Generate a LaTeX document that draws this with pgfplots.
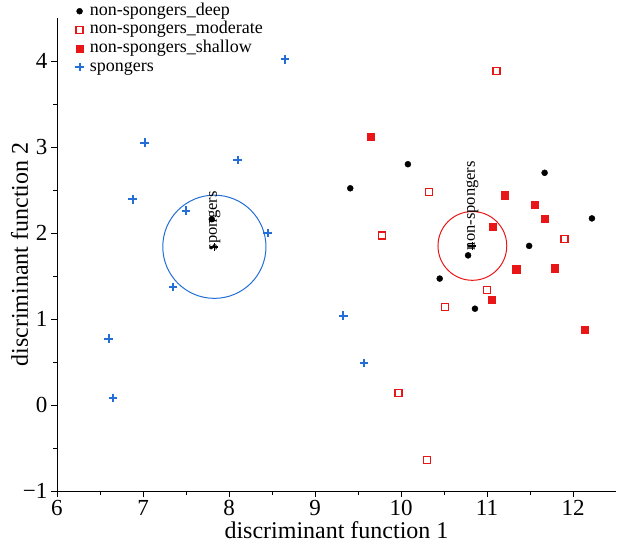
\documentclass[border=0pt]{standalone}
\usepackage{fontspec}
\setmainfont{Liberation Serif}
\usepackage{pgfplots}
\pgfplotsset{compat=1.18}
\definecolor{myred}{RGB}{232,22,22}
\definecolor{myblue}{RGB}{35,110,215}

\begin{document}
\begin{tikzpicture}
\path[use as bounding box] (-57pt,-56pt) rectangle (560pt,491pt);
\begin{axis}[
  at={(0,0)}, anchor=south west,
  scale only axis, width=559pt, height=473pt,
  xmin=6, xmax=12.5, ymin=-1, ymax=4.5,
  axis lines=left, axis line style={-, line width=0.8pt},
  xtick={6,7,8,9,10,11,12}, ytick={-1,0,1,2,3,4},
  xticklabels={6,7,8,9,10,11,12},
  yticklabels={−1,0,1,2,3,4},
  minor x tick num=1, minor y tick num=1,
  tick align=outside,
  major tick length=6pt, minor tick length=4pt,
  tick style={black, line width=0.8pt},
  ticklabel style={font=\fontsize{23}{23}\selectfont},
  xlabel={discriminant function 1}, ylabel={discriminant function 2},
  label style={font=\fontsize{24}{24}\selectfont},
  xlabel style={at={(axis description cs:0.5,-0.0994)}, anchor=base},
  ylabel style={at={(axis description cs:-0.052,0.5)}, anchor=base, rotate=0},
  legend style={draw=none, fill=none, font=\fontsize{18}{18}\selectfont,
    at={(axis description cs:0.027,1.038)}, anchor=north west,
    nodes={inner sep=1pt, text height=12pt, text depth=4pt}, row sep=0.6pt,
    /tikz/every odd column/.append style={column sep=5pt}},
  legend cell align=left,
  clip=false,
]
\addplot[only marks, mark=*, mark size=3pt, black] coordinates {
(7.80,2.16) (9.41,2.52) (10.08,2.80) (10.45,1.47) (10.78,1.74)
(10.86,1.12) (11.49,1.85) (11.67,2.70) (12.22,2.17)};
\addlegendentry{non-spongers\_deep}
\addplot[only marks, mark=square, mark size=3.5pt, myred, mark options={draw=myred, line width=1.2pt}] coordinates {
(11.11,3.88) (10.33,2.48) (9.78,1.97) (11.90,1.93) (11.00,1.34)
(10.51,1.14) (9.97,0.14) (10.30,-0.64)};
\addlegendentry{non-spongers\_moderate}
\addplot[only marks, mark=square*, mark size=3.6pt, myred] coordinates {
(9.65,3.12) (11.21,2.44) (11.55,2.33) (11.67,2.17) (11.07,2.07)
(11.34,1.58) (11.79,1.59) (11.05,1.22) (12.14,0.88)};
\addlegendentry{non-spongers\_shallow}
\addplot[only marks, mark=+, mark size=4.3pt, myblue, line width=2pt] coordinates {
(8.65,4.02) (7.02,3.05) (8.10,2.85) (6.88,2.39) (7.50,2.26) (8.45,2.00)
(7.35,1.37) (9.33,1.04) (6.60,0.77) (9.57,0.49) (6.65,0.08)};
\addlegendentry{spongers}
\draw[myblue, line width=1pt] (axis cs:7.83,1.84) circle[radius=0.6];
\draw[myred, line width=1pt] (axis cs:10.83,1.85) circle[radius=0.4];
\addplot[only marks, mark=+, mark size=4pt, black, line width=1.5pt, forget plot] coordinates {
(7.83,1.84) (10.83,1.85)};
\node[rotate=90, anchor=base west, inner sep=0pt, font=\fontsize{16.5}{16.5}\selectfont] at (axis cs:7.86,1.80) {spongers};
\node[rotate=90, anchor=base west, inner sep=0pt, font=\fontsize{16.5}{16.5}\selectfont] at (axis cs:10.86,1.80) {non-spongers};
\end{axis}
\end{tikzpicture}
\end{document}
